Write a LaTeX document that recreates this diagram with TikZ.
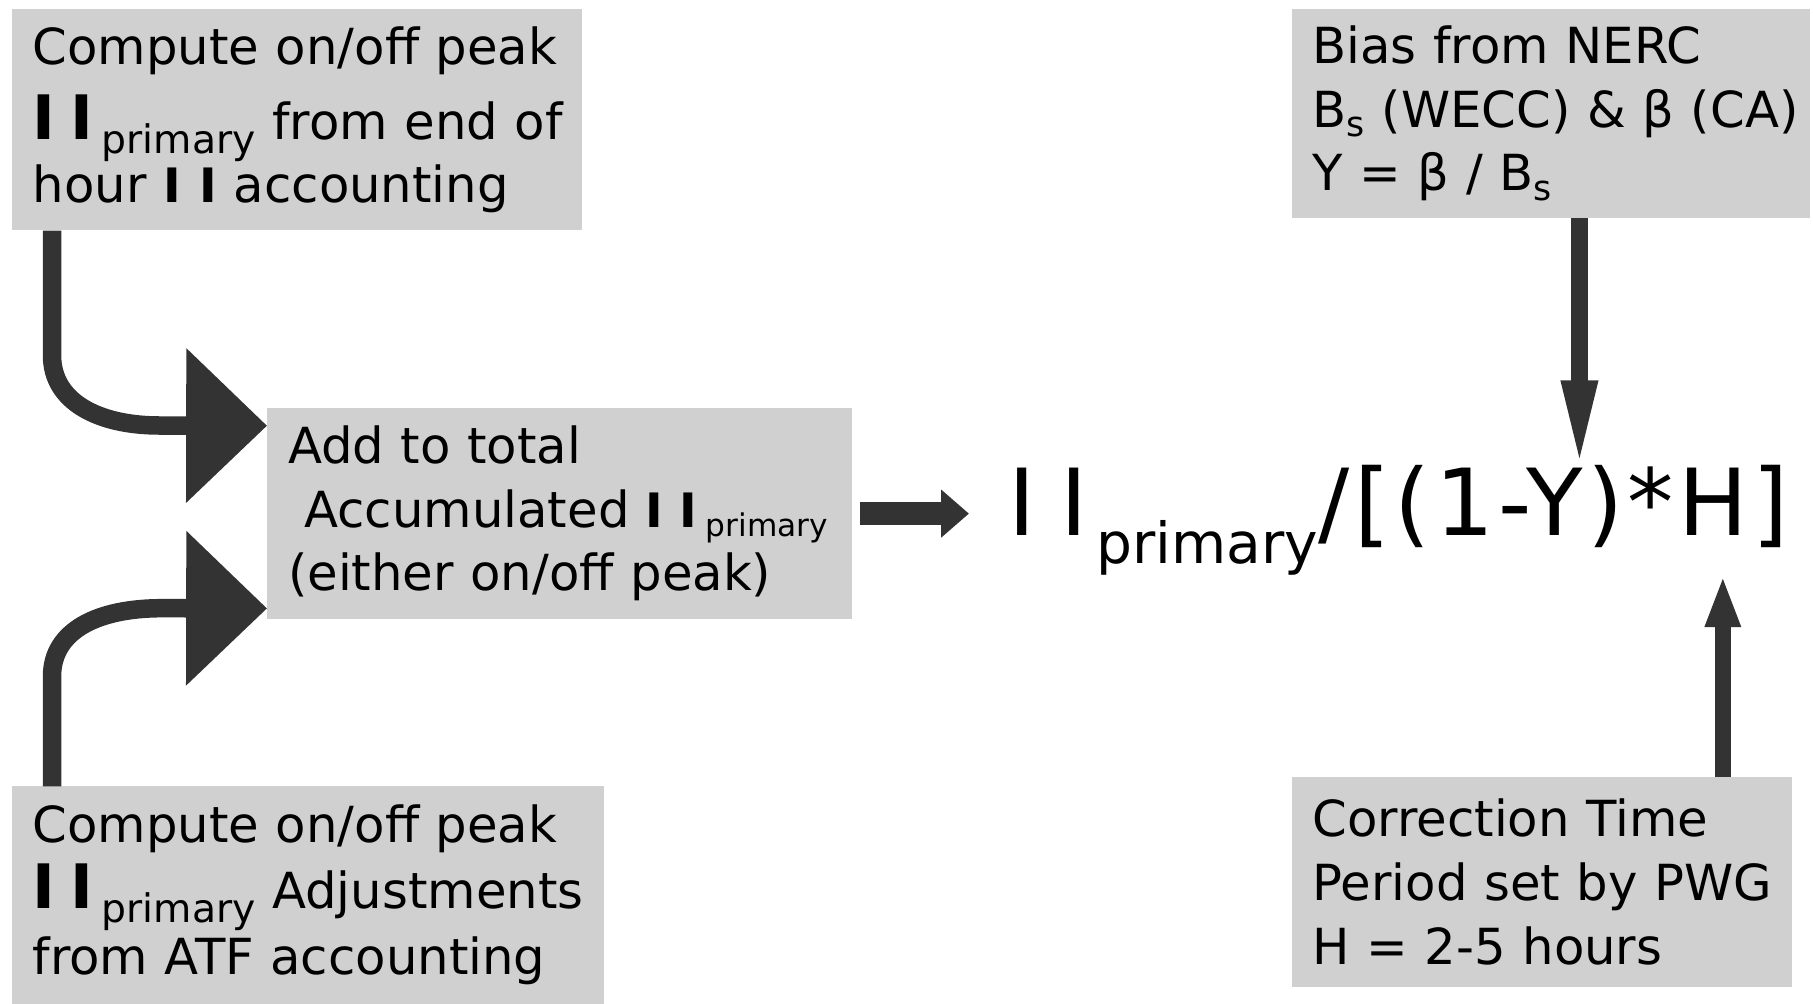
\documentclass[tikz,border=0pt]{standalone}
\usepackage{fontspec}
\setmainfont{DejaVu Sans}
\usetikzlibrary{arrows.meta}

\definecolor{boxgray}{RGB}{208,208,208}
\definecolor{arrowgray}{RGB}{51,51,51}

% the II symbol: size, gap between the bars, weight
\newcommand{\IIbig}[3][\bfseries]{{\fontsize{#2}{#2}\selectfont#1I\kern#3I}}
\newcommand{\prim}[2]{\raisebox{#2}{\fontsize{#1}{#1}\selectfont primary}}

\begin{document}
\begin{tikzpicture}[x=1pt, y=-1pt,
    box/.style={fill=boxgray, anchor=north west, align=left, inner xsep=18pt, inner ysep=0pt,
        font=\fontsize{43}{55}\selectfont},
    fatarrow/.style={draw=arrowgray, line width=16pt, -{Triangle[length=70pt, width=130pt]}},
    slimarrow/.style={draw=arrowgray, line width=14pt}
  ]
    \useasboundingbox (0, 0) rectangle (1568, 868);

    \node[box, minimum width=493pt, minimum height=191pt, text width=457pt] (hourly) at (10, 8)
        {\mbox{Compute on/off peak}\\[10pt]
         \mbox{\IIbig{53}{0.25em}\,\prim{34}{-12pt} from end of}\\
         \mbox{hour \IIbig{41}{0.4em} accounting}};
    \node[box, minimum width=506pt, minimum height=182pt, text width=470pt] (addtotal) at (231, 353)
        {Add to total\\
         \mbox{\hspace{14pt}Accumulated\hspace{14pt}\IIbig{41}{0.35em}\,\prim{27}{-8pt}}\\
         \mbox{(either on/off peak)}};
    \node[box, minimum width=512pt, minimum height=188pt, text width=476pt] (adjust) at (10, 680)
        {\mbox{Compute on/off peak}\\[2pt]
         \mbox{\IIbig{53}{0.25em}\,\prim{34}{-12pt} Adjustments}\\[2pt]
         \mbox{from ATF accounting}};
    \node[box, minimum width=448pt, minimum height=180pt, text width=412pt] (bias) at (1117, 8)
        {\mbox{Bias from NERC}\\
         \mbox{B\textsubscript{s} (WECC) \& β (CA)}\\
         \mbox{Y = β / B\textsubscript{s}}};
    \node[box, minimum width=433pt, minimum height=181pt, text width=397pt] (corr) at (1117, 672)
        {\mbox{Correction Time}\\
         \mbox{Period set by PWG}\\
         \mbox{H = 2-5 hours}};

    \node[anchor=base west, inner sep=0pt, font=\fontsize{80}{80}\selectfont] (formula) at (872, 463)
        {\IIbig[\mdseries]{80}{21pt}\hspace{8pt}\prim{49}{-24pt}{\addfontfeature{LetterSpace=5}/[(1-Y)*H]}};

    % inputs into the running total
    \draw[fatarrow] ([xshift=35pt]hourly.south west) -- ++(0, 108)
        .. controls ++(0, 40) and (85, 368) .. (138, 368) -- ([yshift=76pt]addtotal.west);
    \draw[fatarrow] ([xshift=35pt]adjust.north west) -- ++(0, -95)
        .. controls ++(0, -40) and (85, 526) .. (140, 526) -- ([yshift=-82pt]addtotal.west);

    \draw[slimarrow, line width=20pt, -{Triangle[length=24pt, width=40pt]}]
        ([xshift=6pt]addtotal.east) -- ([xshift=-34pt]addtotal.east -| formula.west);

    \draw[slimarrow, -{Triangle[length=77pt, width=28pt]}]
        ([xshift=249pt]bias.south west) coordinate (bdrop) -- ([yshift=-4pt]bdrop |- formula.north);
    \draw[slimarrow, -{Triangle[length=45pt, width=28pt]}]
        ([xshift=373pt]corr.north west) coordinate (crise) -- (crise |- formula.south);
\end{tikzpicture}
\end{document}
